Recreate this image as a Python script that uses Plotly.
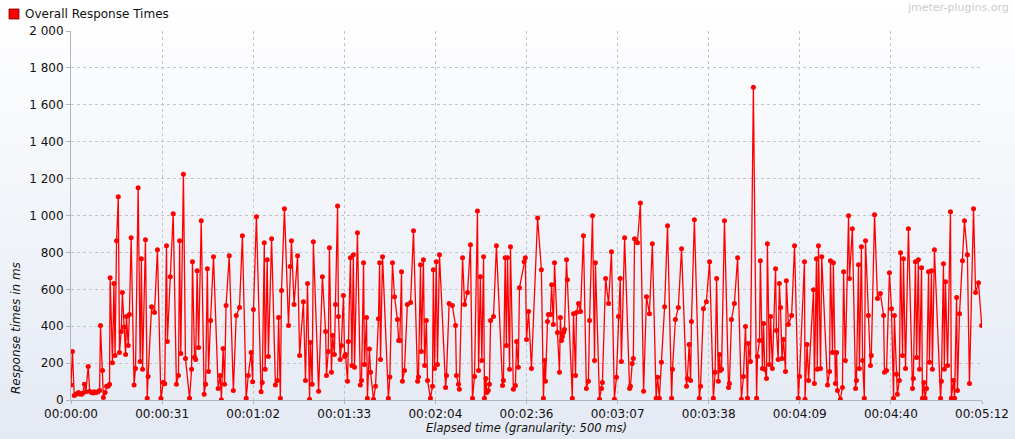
import plotly.graph_objects as go

# ---------------- data ----------------
series_name = "Overall Response Times"
times_s = [
    0.0, 0.5, 1.1, 1.7, 2.1, 2.6, 3.1, 3.6, 4.0, 4.6, 5.1, 5.9, 6.4, 7.0, 7.5, 8.0, 8.6, 9.2, 9.8, 10.1,
    10.8, 11.1, 11.7, 12.2, 12.7, 13.2, 13.4, 14.2, 14.7, 15.1, 15.6, 16.2, 16.6, 17.2, 17.6, 18.2, 18.7, 19.0, 19.6, 20.0,
    20.6, 21.6, 22.1, 23.0, 23.7, 24.1, 24.5, 25.5, 26.1, 26.4, 27.6, 28.6, 29.6, 30.8, 31.6, 32.1, 32.7, 33.0, 34.0, 35.0,
    36.1, 36.8, 37.2, 37.6, 38.5, 39.2, 40.6, 41.3, 41.6, 42.3, 42.7, 43.2, 43.7, 44.6, 45.6, 46.1, 46.7, 47.1, 47.8, 48.8,
    50.4, 51.1, 51.5, 52.1, 52.6, 53.1, 54.2, 55.6, 56.6, 57.7, 58.7, 60.0, 60.7, 61.7, 62.2, 62.5, 63.5, 65.1, 65.5, 66.2,
    66.5, 67.2, 67.6, 68.7, 70.0, 70.7, 71.1, 71.7, 72.1, 73.1, 74.5, 75.1, 75.5, 76.4, 77.6, 78.3, 79.6, 80.3, 81.0, 81.7,
    82.0, 82.6, 83.0, 84.8, 86.1, 87.2, 87.5, 88.1, 88.5, 89.2, 89.6, 90.2, 90.6, 91.3, 91.6, 92.2, 92.6, 93.3, 93.7, 94.0,
    94.7, 95.0, 95.7, 96.2, 96.7, 97.1, 98.1, 99.1, 99.5, 100.2, 100.5, 101.2, 101.5, 102.2, 102.6, 103.6, 104.3, 105.3, 105.7, 106.0,
    106.7, 108.7, 109.2, 110.1, 110.8, 111.8, 112.2, 112.6, 113.2, 113.5, 114.2, 115.2, 116.3, 117.3, 118.7, 119.0, 119.7, 120.0, 120.7, 121.1,
    121.7, 122.1, 123.1, 123.8, 124.1, 124.5, 125.1, 125.5, 126.2, 128.3, 128.6, 129.5, 130.6, 131.7, 132.0, 132.7, 133.0, 134.1, 134.8, 135.8,
    136.8, 137.5, 138.2, 139.2, 139.6, 140.2, 140.7, 141.3, 141.6, 142.1, 142.4, 142.9, 143.3, 143.7, 144.7, 145.7, 147.8, 148.1, 148.7, 149.1,
    149.5, 150.2, 150.5, 151.5, 152.2, 152.6, 153.2, 153.6, 155.2, 155.6, 156.0, 156.7, 157.7, 159.8, 161.1, 161.8, 162.2, 162.5, 163.2, 163.5,
    164.2, 164.6, 165.2, 165.6, 166.6, 167.3, 167.6, 168.0, 168.3, 168.7, 169.0, 169.7, 170.0, 171.7, 172.1, 172.8, 173.1, 173.8, 174.5, 175.5,
    176.5, 177.2, 177.6, 178.6, 179.3, 179.6, 181.0, 181.7, 182.0, 183.1, 184.1, 185.1, 186.1, 186.8, 187.5, 188.1, 188.5, 189.6, 191.3, 191.6,
    192.2, 192.6, 193.0, 194.0, 195.0, 196.1, 197.1, 198.1, 199.1, 200.4, 200.9, 201.5, 202.2, 203.3, 204.3, 205.7, 206.0, 207.0, 208.0, 209.1,
    210.8, 211.1, 211.7, 212.2, 212.5, 213.5, 215.2, 215.6, 216.6, 217.6, 218.7, 220.0, 220.6, 221.1, 221.7, 222.1, 222.4, 222.8, 223.8, 225.2,
    225.5, 226.2, 227.2, 228.3, 229.6, 230.3, 231.0, 231.7, 232.0, 232.7, 233.7, 234.8, 235.1, 235.8, 236.1, 236.8, 237.2, 237.6, 238.2, 238.5,
    239.2, 239.6, 240.2, 241.3, 241.6, 242.2, 242.6, 243.0, 243.5, 244.0, 244.7, 245.0, 245.7, 246.8, 247.8, 249.1, 249.5, 251.2, 251.4, 252.1,
    252.6, 254.3, 254.6, 255.3, 255.6, 256.0, 256.7, 257.1, 259.1, 259.8, 260.1, 260.8, 261.1, 261.8, 262.2, 262.5, 263.5, 264.2, 264.6, 265.2,
    266.3, 266.6, 267.6, 268.7, 269.0, 269.7, 270.0, 270.7, 271.1, 271.7, 272.1, 273.1, 273.8, 274.1, 275.2, 276.2, 277.2, 278.3, 278.6, 279.3,
    280.3, 281.0, 281.7, 282.0, 282.7, 283.0, 283.7, 284.1, 284.8, 285.1, 285.8, 286.8, 288.2, 288.5, 289.2, 289.6, 290.2, 290.6, 291.3, 291.6,
    292.1, 292.5, 293.0, 293.7, 294.0, 294.7, 295.0, 295.7, 297.8, 298.1, 298.8, 299.1, 299.5, 300.2, 301.2, 301.5, 302.2, 302.6, 303.3, 303.6,
    304.3, 305.3, 306.0, 307.0, 307.7, 309.1, 309.8, 310.8, 311.9,
]
response_ms = [
    81, 263, 25, 31, 34, 40, 32, 31, 36, 85, 45, 182, 47, 40, 38, 45, 41, 45, 52, 404,
    160, 14, 40, 74, 74, 85, 663, 202, 631, 241, 863, 1101, 258, 371, 582, 396, 247, 452, 295, 463,
    879, 81, 171, 1150, 209, 766, 166, 868, 9, 128, 506, 474, 814, 9, 95, 88, 836, 317, 668, 1009,
    85, 133, 863, 252, 1223, 225, 9, 166, 750, 232, 220, 701, 285, 971, 31, 85, 712, 155, 431, 777,
    63, 133, 2, 279, 85, 512, 782, 52, 458, 501, 890, 9, 133, 258, 99, 490, 993, 45, 95, 852,
    166, 760, 236, 874, 81, 106, 447, 9, 593, 1036, 404, 723, 863, 517, 782, 241, 533, 106, 631, 4,
    312, 85, 858, 47, 668, 371, 133, 263, 825, 150, 350, 247, 517, 1052, 452, 220, 295, 566, 236, 247,
    101, 317, 771, 187, 787, 177, 906, 81, 106, 744, 193, 447, 9, 276, 150, 4, 74, 441, 744, 220,
    777, 9, 124, 744, 560, 436, 323, 323, 695, 101, 160, 517, 528, 917, 101, 124, 733, 263, 760, 187,
    431, 106, 9, 74, 706, 171, 750, 193, 787, 68, 133, 523, 512, 404, 133, 85, 58, 771, 517, 582,
    841, 9, 128, 1025, 160, 668, 214, 777, 9, 117, 41, 52, 85, 431, 452, 836, 79, 106, 771, 295,
    771, 166, 831, 58, 79, 317, 177, 609, 750, 771, 328, 479, 171, 987, 706, 9, 214, 101, 425, 463,
    463, 625, 409, 744, 366, 150, 447, 323, 344, 366, 382, 760, 652, 9, 468, 133, 474, 523, 479, 890,
    63, 101, 431, 998, 214, 744, 4, 63, 95, 658, 523, 804, 4, 123, 452, 658, 209, 879, 63, 74,
    198, 225, 874, 852, 1068, 47, 560, 468, 847, 9, 123, 9, 204, 506, 944, 9, 166, 436, 501, 820,
    74, 117, 301, 106, 425, 977, 9, 74, 495, 533, 750, 9, 150, 658, 101, 247, 160, 166, 971, 68,
    90, 436, 523, 771, 4, 128, 398, 9, 306, 209, 1695, 9, 236, 323, 755, 171, 414, 166, 117, 847,
    193, 452, 171, 712, 377, 220, 631, 501, 225, 328, 155, 647, 409, 458, 836, 9, 128, 750, 4, 301,
    106, 598, 90, 766, 166, 836, 171, 777, 81, 155, 755, 258, 744, 90, 258, 52, 4, 68, 695, 214,
    998, 658, 928, 63, 106, 733, 171, 831, 214, 9, 863, 458, 187, 241, 1004, 550, 577, 458, 150, 160,
    690, 495, 9, 458, 139, 31, 106, 798, 241, 766, 171, 928, 63, 117, 750, 231, 760, 166, 717, 9,
    95, 9, 63, 695, 204, 701, 166, 814, 9, 101, 739, 166, 641, 187, 1020, 9, 106, 9, 555, 52,
    468, 755, 971, 787, 90, 1036, 582, 636, 404,
]
x_tick_seconds = [0, 31.2, 62.4, 93.6, 124.8, 156.0, 187.2, 218.4, 249.6, 280.8, 312.0]
x_tick_labels = ["00:00:00", "00:00:31", "00:01:02", "00:01:33", "00:02:04", "00:02:36",
                 "00:03:07", "00:03:38", "00:04:09", "00:04:40", "00:05:12"]
y_tick_values = [0, 200, 400, 600, 800, 1000, 1200, 1400, 1600, 1800, 2000]
y_tick_labels = ["0", "200", "400", "600", "800", "1 000", "1 200", "1 400", "1 600", "1 800", "2 000"]
x_title = "Elapsed time (granularity: 500 ms)"
y_title = "Response times in ms"
watermark = "jmeter-plugins.org"

# ---------------- layout geometry ----------------
W, H = 1015, 439
L, R, T, B = 71, 33, 31, 39
PW, PH = W - L - R, H - T - B


def px2x(px):
    return (px - L) / PW


def px2y(py):
    return (H - B - py) / PH


FONT = "DejaVu Sans"
RED = "#ff0000"
GRID = "#c2c4c8"
AXIS = "#b0b4bc"

fig = go.Figure()
fig.add_trace(go.Scatter(
    x=times_s, y=response_ms, mode="lines+markers", name=series_name,
    line=dict(color=RED, width=1.3),
    marker=dict(color=RED, size=5, symbol="circle"),
    showlegend=False,
))

# background vertical gradient (whole figure)
shapes = []
N = 60
top_c = (255, 255, 255)
bot_c = (228, 233, 243)
for i in range(N):
    f = (i + 0.5) / N
    c = tuple(round(top_c[k] + (bot_c[k] - top_c[k]) * f) for k in range(3))
    shapes.append(dict(
        type="rect", xref="paper", yref="paper", layer="below",
        x0=px2x(0), x1=px2x(W),
        y0=px2y(H * i / N - 0.5), y1=px2y(H * (i + 1) / N + 0.5),
        fillcolor="rgb(%d,%d,%d)" % c, line=dict(width=0),
    ))
# legend square
shapes.append(dict(
    type="rect", xref="paper", yref="paper", layer="above",
    x0=px2x(9), x1=px2x(19), y0=px2y(19), y1=px2y(9),
    fillcolor=RED, line=dict(color="#7a0000", width=0.8),
))

annotations = [
    dict(text=series_name, xref="paper", yref="paper", x=px2x(23), y=px2y(14),
         xanchor="left", yanchor="middle", showarrow=False,
         font=dict(family=FONT, size=12, color="#111111")),
    dict(text=watermark, xref="paper", yref="paper", x=px2x(1011), y=px2y(7),
         xanchor="right", yanchor="middle", showarrow=False,
         font=dict(family=FONT, size=11, color="#c9ccd2")),
    dict(text=x_title, xref="paper", yref="paper", x=0.5, y=px2y(428.5),
         xanchor="center", yanchor="middle", showarrow=False,
         font=dict(family=FONT, size=11.5, color="#111111", style="italic")),
    dict(text=y_title, xref="paper", yref="paper", x=px2x(16), y=px2y(396),
         xanchor="center", yanchor="bottom", showarrow=False, textangle=-90,
         font=dict(family=FONT, size=12, color="#111111", style="italic")),
]

fig.update_layout(
    width=W, height=H,
    margin=dict(l=L, r=R, t=T, b=B, pad=0),
    paper_bgcolor="white",
    plot_bgcolor="rgba(0,0,0,0)",
    shapes=shapes,
    annotations=annotations,
    showlegend=False,
    font=dict(family=FONT, size=12, color="#111111"),
    xaxis=dict(
        range=[0, 312], tickmode="array", tickvals=x_tick_seconds, ticktext=x_tick_labels,
        showgrid=True, gridcolor=GRID, gridwidth=1, griddash="3px,3px",
        showline=True, linecolor=AXIS, linewidth=1,
        ticks="outside", ticklen=3, tickcolor=AXIS,
        zeroline=False, tickfont=dict(family=FONT, size=12, color="#111111"),
        fixedrange=True, automargin=False,
    ),
    yaxis=dict(
        range=[0, 2000], tickmode="array", tickvals=y_tick_values, ticktext=y_tick_labels,
        showgrid=True, gridcolor=GRID, gridwidth=1, griddash="3px,3px",
        showline=True, linecolor=AXIS, linewidth=1,
        ticks="outside", ticklen=4, tickcolor=AXIS,
        zeroline=False, tickfont=dict(family=FONT, size=12, color="#111111"),
        fixedrange=True, automargin=False,
    ),
)

fig.write_html(
    "out.html",
    config={"responsive": False, "displayModeBar": False},
    post_script="document.body.style.margin='0px';document.body.style.overflow='hidden';",
)
